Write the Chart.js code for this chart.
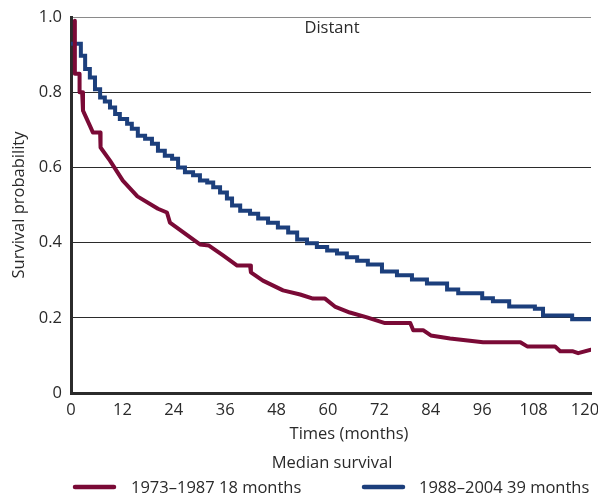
<!DOCTYPE html>
<html>
<head>
<meta charset="utf-8">
<script src="https://cdn.jsdelivr.net/npm/chart.js@4.4.1/dist/chart.umd.min.js"></script>
<style>
  html, body { margin: 0; padding: 0; background: #ffffff; }
  #wrap { width: 598px; height: 497px; position: relative; }
</style>
</head>
<body>
<div id="wrap"><canvas id="c" width="598" height="497"></canvas></div>
<script>
// ---- data ----
const panelTitle = "Distant";
const xTitle = "Times (months)";
const yTitle = "Survival probability";
const legendTitle = "Median survival";
const seriesNames = ["1973\u20131987 18 months", "1988\u20132004 39 months"];
const xTicks = [0, 12, 24, 36, 48, 60, 72, 84, 96, 108, 120];
const yTicks = [0, 0.2, 0.4, 0.6, 0.8, 1.0];

// 1973–1987 (months, survival)
const early_t = [0.9, 0.9, 2.0, 2.0, 2.6, 2.8, 4.4, 5.1, 6.8, 6.9, 9.1, 12.1, 15.5, 20.3, 22.4, 23.1, 30.1, 32.2, 35.5, 38.8, 41.8, 42.0, 44.8, 49.5, 53.5, 56.5, 59.3, 61.6, 65.1, 69.1, 73.3, 79.2, 79.9, 82.2, 84.0, 88.5, 96.2, 104.9, 106.5, 113.0, 114.2, 117.2, 118.4, 121.4];
const early_s = [0.99, 0.849, 0.849, 0.80, 0.80, 0.751, 0.711, 0.693, 0.693, 0.653, 0.618, 0.565, 0.523, 0.490, 0.480, 0.453, 0.395, 0.392, 0.366, 0.339, 0.339, 0.321, 0.299, 0.273, 0.262, 0.251, 0.251, 0.230, 0.214, 0.201, 0.186, 0.186, 0.167, 0.167, 0.153, 0.145, 0.135, 0.135, 0.124, 0.124, 0.111, 0.111, 0.106, 0.115];

// 1988–2004 (months, survival) — step function
const late_t = [0, 2.3, 3.3, 4.4, 5.6, 6.8, 7.9, 9.1, 10.3, 11.4, 13.1, 14.2, 15.6, 17.3, 18.9, 20.3, 21.9, 23.6, 25.0, 26.6, 28.5, 30.1, 31.8, 33.2, 34.8, 36.4, 37.6, 39.5, 41.8, 43.7, 46.0, 48.3, 50.7, 52.8, 55.1, 57.4, 59.8, 62.1, 64.4, 66.8, 69.3, 72.6, 76.1, 79.6, 83.1, 87.8, 90.4, 96.0, 98.5, 102.3, 108.3, 110.2, 117.0, 121.4];
const late_s = [0.929, 0.897, 0.862, 0.839, 0.808, 0.786, 0.775, 0.759, 0.742, 0.729, 0.716, 0.703, 0.684, 0.676, 0.663, 0.644, 0.631, 0.623, 0.600, 0.587, 0.579, 0.565, 0.560, 0.547, 0.533, 0.517, 0.499, 0.485, 0.477, 0.464, 0.453, 0.440, 0.427, 0.408, 0.398, 0.388, 0.379, 0.371, 0.361, 0.352, 0.342, 0.323, 0.313, 0.302, 0.291, 0.275, 0.265, 0.252, 0.244, 0.230, 0.224, 0.206, 0.196, 0.196];

// ---- styling ----
const RED = "#7a0a36";
const BLUE = "#1c3f7c";
const TEXT = "#2a2a2a";
const FONT = "'Open Sans', 'Noto Sans', sans-serif";
const FS = 16.5;

const toXY = (t, s) => t.map((v, i) => ({ x: v, y: s[i] }));

const overlay = {
  id: 'overlay',
  afterDraw(chart) {
    const ctx = chart.ctx;
    ctx.save();
    ctx.fillStyle = TEXT;
    ctx.font = FS + "px " + FONT;
    ctx.textBaseline = 'middle';
    ctx.textAlign = 'center';
    ctx.fillText(panelTitle, 332, 28);
    ctx.fillText(xTitle, 349, 434);
    ctx.fillText(legendTitle, 332, 463);
    // legend items
    const items = [
      { color: RED, x0: 73, x1: 116, tx: 131, label: seriesNames[0] },
      { color: BLUE, x0: 362, x1: 405, tx: 419, label: seriesNames[1] }
    ];
    ctx.textAlign = 'left';
    items.forEach(it => {
      ctx.strokeStyle = it.color;
      ctx.lineWidth = 4.5;
      ctx.lineCap = 'round';
      ctx.beginPath();
      ctx.moveTo(it.x0 + 2, 487);
      ctx.lineTo(it.x1 - 2, 487);
      ctx.stroke();
      ctx.fillText(it.label, it.tx, 488);
    });
    ctx.restore();
  }
};

new Chart(document.getElementById('c'), {
  type: 'line',
  data: {
    datasets: [
      {
        label: seriesNames[0],
        data: toXY(early_t, early_s),
        borderColor: RED,
        backgroundColor: RED,
        borderWidth: 4,
        pointRadius: 0,
        tension: 0,
        borderJoinStyle: 'round',
        borderCapStyle: 'round',
        fill: false
      },
      {
        label: seriesNames[1],
        data: toXY(late_t, late_s),
        borderColor: BLUE,
        backgroundColor: BLUE,
        borderWidth: 4,
        pointRadius: 0,
        stepped: true,
        borderJoinStyle: 'miter',
        fill: false
      }
    ]
  },
  options: {
    responsive: false,
    animation: false,
    devicePixelRatio: 1,
    layout: { padding: { top: 17, right: 7, bottom: 0, left: 0 } },
    plugins: { legend: { display: false }, tooltip: { enabled: false }, title: { display: false } },
    scales: {
      x: {
        type: 'linear',
        min: 0,
        max: 121.4,
        afterBuildTicks: (scale) => { scale.ticks = xTicks.map(v => ({ value: v })); },
        afterFit: (scale) => { scale.height = 104; scale.paddingLeft = 0; scale.paddingRight = 0; },
        grid: { display: false, drawTicks: false },
        border: { display: true, color: '#2b2b2b', width: 3 },
        ticks: {
          autoSkip: false, maxRotation: 0, padding: 7, color: TEXT,
          font: { family: FONT, size: FS },
          callback: (v) => String(v)
        },
        title: { display: false }
      },
      y: {
        type: 'linear',
        min: 0,
        max: 1,
        afterBuildTicks: (scale) => { scale.ticks = yTicks.map(v => ({ value: v })); },
        afterFit: (scale) => { scale.width = 71; scale.paddingTop = 0; scale.paddingBottom = 0; },
        grid: {
          drawTicks: false,
          lineWidth: 1,
          color: (c) => (c.tick && c.tick.value === 1) ? '#8a8a8a' : '#2b2b2b'
        },
        border: { display: true, color: '#2b2b2b', width: 3 },
        ticks: {
          padding: 9, color: TEXT,
          font: { family: FONT, size: FS },
          callback: (v) => v === 0 ? '0' : Number(v).toFixed(1)
        },
        title: {
          display: true, text: yTitle, color: TEXT,
          font: { family: FONT, size: FS },
          padding: { top: 9, bottom: 0 }
        }
      }
    }
  },
  plugins: [overlay]
});
</script>
</body>
</html>
